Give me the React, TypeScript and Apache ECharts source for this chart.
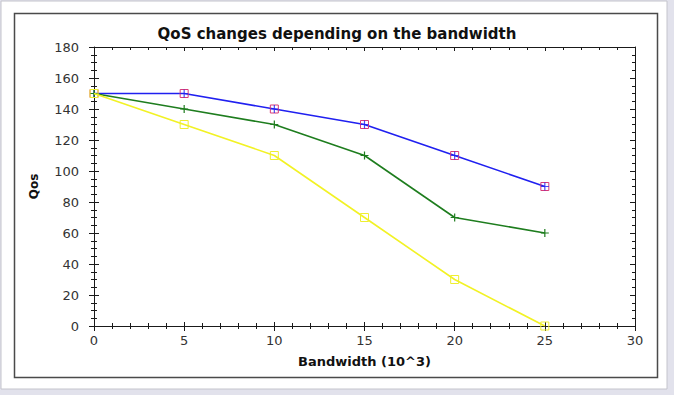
import React, { useEffect, useRef } from "react";
import * as echarts from "echarts";

const bandwidth = [0, 5, 10, 15, 20, 25];
const qosBlue = [150, 150, 140, 130, 110, 90];
const qosGreen = [150, 140, 130, 110, 70, 60];
const qosYellow = [150, 130, 110, 70, 30, 0];
const titleText = "QoS changes depending on the bandwidth";
const xName = "Bandwidth (10^3)";
const yName = "Qos";

const plusPath = "path://M0,3.4H8V4.6H0Z M3.4,0H4.6V8H3.4Z";
const FONT = "'DejaVu Sans', 'Liberation Sans', Arial, sans-serif";
const AX = "#1a1a1a";

function pairs(ys: number[]) {
  return bandwidth.map((x, i) => [x, ys[i]]);
}

export default function App() {
  const ref = useRef<HTMLDivElement>(null);
  useEffect(() => {
    if (!ref.current) return;
    const chart = echarts.init(ref.current, undefined, { renderer: "svg" });
    const xCommon = { type: "value" as const, min: 0, max: 30, interval: 5, gridIndex: 0, splitLine: { show: false } };
    const yCommon = { type: "value" as const, min: 0, max: 180, interval: 20, gridIndex: 0, splitLine: { show: false } };
    const tickLS = { color: AX, width: 1 };
    chart.setOption({
      animation: false,
      backgroundColor: "#e2e2ec",
      graphic: [
        { type: "rect", z: -10, shape: { x: 1, y: 1, width: 666, height: 388 }, style: { fill: "#ffffff", stroke: "#c4c4cc", lineWidth: 1 } },
        { type: "rect", z: -9, shape: { x: 14.5, y: 13.5, width: 643, height: 364 }, style: { fill: "#ffffff", stroke: "#4a4a4a", lineWidth: 1.5 } },
      ],
      title: {
        text: titleText,
        left: "center",
        top: 21,
        textStyle: { fontFamily: FONT, fontSize: 15, fontWeight: "bold", color: "#111" },
      },
      grid: { left: 94, right: 39, top: 47, bottom: 69, containLabel: false },
      xAxis: [
        {
          ...xCommon,
          position: "bottom",
          axisLine: { show: true, onZero: false, lineStyle: { color: AX, width: 1 } },
          axisTick: { show: true, length: 5, lineStyle: tickLS },
          minorTick: { show: true, splitNumber: 5, length: 3, lineStyle: tickLS },
          axisLabel: { margin: 8, fontFamily: FONT, fontSize: 13, color: "#333" },
          name: xName,
          nameLocation: "middle",
          nameGap: 29,
          nameTextStyle: { fontFamily: FONT, fontSize: 13, fontWeight: "bold", color: "#111" },
        },
        {
          ...xCommon,
          position: "bottom",
          axisLine: { show: false, onZero: false },
          axisTick: { show: true, inside: true, length: 4, lineStyle: tickLS },
          minorTick: { show: true, splitNumber: 5, length: 3, lineStyle: tickLS },
          axisLabel: { show: false },
        },
        {
          ...xCommon,
          position: "top",
          axisLine: { show: true, onZero: false, lineStyle: { color: AX, width: 1 } },
          axisTick: { show: true, inside: true, length: 4, lineStyle: tickLS },
          minorTick: { show: true, splitNumber: 5, length: 3, lineStyle: tickLS },
          axisLabel: { show: false },
        },
      ],
      yAxis: [
        {
          ...yCommon,
          position: "left",
          axisLine: { show: true, onZero: false, lineStyle: { color: AX, width: 1 } },
          axisTick: { show: true, length: 5, lineStyle: tickLS },
          minorTick: { show: true, splitNumber: 4, length: 3, lineStyle: tickLS },
          axisLabel: { margin: 15, fontFamily: FONT, fontSize: 13, color: "#333" },
          name: yName,
          nameLocation: "middle",
          nameGap: 54,
          nameTextStyle: { fontFamily: FONT, fontSize: 12, fontWeight: "bold", color: "#111" },
        },
        {
          ...yCommon,
          position: "left",
          axisLine: { show: false, onZero: false },
          axisTick: { show: true, inside: true, length: 5, lineStyle: tickLS },
          minorTick: { show: true, splitNumber: 4, length: 3, lineStyle: tickLS },
          axisLabel: { show: false },
        },
        {
          ...yCommon,
          position: "right",
          axisLine: { show: true, onZero: false, lineStyle: { color: AX, width: 1 } },
          axisTick: { show: true, inside: true, length: 5, lineStyle: tickLS },
          minorTick: { show: true, splitNumber: 4, length: 3, lineStyle: tickLS },
          axisLabel: { show: false },
        },
      ],
      series: [
        {
          type: "line",
          data: pairs(qosBlue),
          xAxisIndex: 0,
          yAxisIndex: 0,
          symbol: "rect",
          symbolSize: 8,
          showAllSymbol: true,
          lineStyle: { color: "#2020f0", width: 1.6 },
          itemStyle: { color: "rgba(0,0,0,0)", borderColor: "#d83a78", borderWidth: 1 },
          z: 2,
        },
        {
          type: "scatter",
          data: pairs(qosBlue),
          xAxisIndex: 0,
          yAxisIndex: 0,
          symbol: plusPath,
          symbolSize: 8,
          itemStyle: { color: "#2020f0" },
          z: 3,
        },
        {
          type: "line",
          data: pairs(qosGreen),
          xAxisIndex: 0,
          yAxisIndex: 0,
          symbol: plusPath,
          symbolSize: 8,
          lineStyle: { color: "#1e7d1e", width: 1.6 },
          itemStyle: { color: "#1e7d1e" },
          z: 4,
        },
        {
          type: "line",
          data: pairs(qosYellow),
          xAxisIndex: 0,
          yAxisIndex: 0,
          symbol: "rect",
          symbolSize: 8,
          lineStyle: { color: "#f2f225", width: 1.6 },
          itemStyle: { color: "rgba(0,0,0,0)", borderColor: "#eeee30", borderWidth: 1 },
          z: 5,
        },
      ],
    });
    return () => chart.dispose();
  }, []);
  return <div ref={ref} style={{ position: "fixed", left: 0, top: 0, width: 674, height: 395 }} />;
}
